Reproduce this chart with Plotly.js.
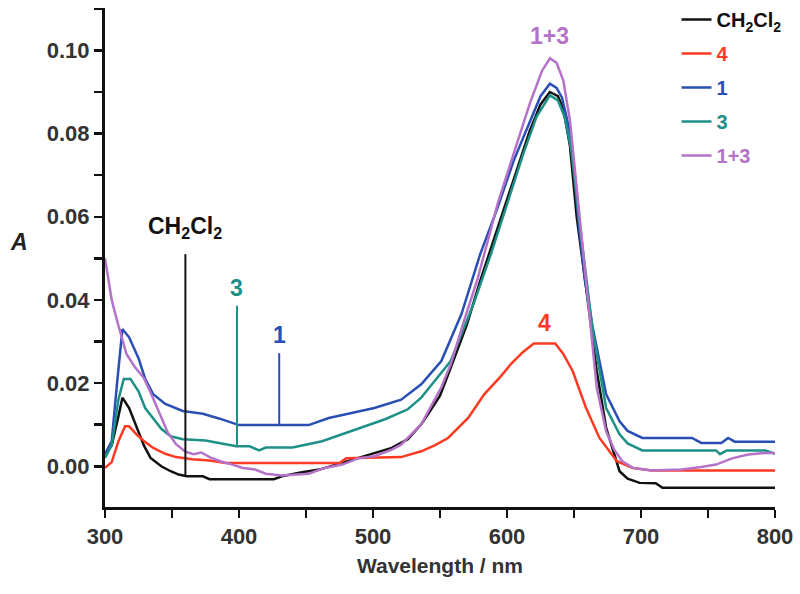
<!DOCTYPE html>
<html>
<head>
<meta charset="utf-8">
<script src="https://cdn.plot.ly/plotly-3.0.1.min.js"></script>
<style>html,body{margin:0;padding:0;background:#fff;}#chart{width:800px;height:594px;}</style>
</head>
<body>
<div id="chart"></div>
<script>
// ---- data (wavelength in nm, absorbance A) ----
const ch2cl2X = [300,305,310,313,318,324,329,334,342,349,355,361,373,378,426,432,446,460,477,489,497,514,526,536,541,550,558,570,580,593,605,617,625,632,638,642,647,652,659,667,674,684,690,699,711,716,800];
const ch2cl2Y = [0.003,0.005,0.012,0.0165,0.014,0.0092,0.005,0.002,0.0,-0.0012,-0.002,-0.0024,-0.0024,-0.0031,-0.0031,-0.0024,-0.0015,-0.0008,0.0008,0.0019,0.0028,0.0044,0.0065,0.0101,0.0125,0.017,0.0237,0.034,0.0446,0.0574,0.0687,0.0807,0.087,0.090,0.089,0.086,0.077,0.060,0.043,0.0229,0.0092,-0.0012,-0.003,-0.004,-0.0041,-0.0052,-0.0052];

const s4X = [300,305,310,315,318,324,330,336,345,353,365,378,390,475,480,521,536,546,556,571,583,595,603,612,620,636,642,649,659,669,682,694,708,800];
const s4Y = [-0.0004,0.001,0.006,0.0096,0.0096,0.0075,0.0058,0.0044,0.003,0.0022,0.0017,0.0014,0.0008,0.0008,0.0019,0.0022,0.0036,0.005,0.0068,0.0116,0.0173,0.0215,0.0246,0.0275,0.0295,0.0295,0.027,0.0229,0.014,0.0068,0.0012,-0.0004,-0.001,-0.001];

const s1X = [300,305,309,313,318,325,330,336,345,358,373,385,400,452,467,484,501,521,536,551,566,580,593,605,617,625,632,637,641,648,653,658,664,674,684,690,701,738,745,760,765,770,800];
const s1Y = [0.003,0.006,0.02,0.033,0.031,0.026,0.021,0.0173,0.015,0.0133,0.0126,0.0115,0.0099,0.0099,0.0116,0.0128,0.014,0.016,0.0197,0.0253,0.0366,0.051,0.0622,0.0735,0.083,0.089,0.092,0.091,0.0887,0.079,0.060,0.045,0.0333,0.0173,0.0108,0.0085,0.0068,0.0068,0.0056,0.0056,0.0068,0.0059,0.0059];

const s3X = [300,305,310,314,319,325,330,336,342,349,358,375,398,408,415,420,440,462,484,509,526,536,546,558,575,588,600,612,622,632,638,643,648,654,664,674,684,690,701,756,759,764,793,800];
const s3Y = [0.002,0.005,0.016,0.021,0.021,0.018,0.014,0.0116,0.009,0.0072,0.0065,0.0062,0.0048,0.0048,0.0038,0.0045,0.0045,0.006,0.0084,0.0113,0.0137,0.0165,0.0205,0.0253,0.039,0.051,0.063,0.075,0.084,0.0892,0.088,0.084,0.076,0.059,0.0325,0.014,0.0077,0.0055,0.0038,0.0038,0.0029,0.0038,0.0038,0.003];

const s13X = [300,305,309,316,322,329,335,341,347,353,360,366,372,378,386,395,403,412,420,432,452,464,477,489,501,514,521,528,536,551,558,568,578,588,593,605,617,626,632,637,642,647,652,657,662,667,674,680,686,694,708,730,745,756,768,780,793,800];
const s13Y = [0.050,0.040,0.035,0.027,0.024,0.0212,0.017,0.0125,0.008,0.0053,0.0035,0.0029,0.0033,0.0022,0.0012,0.0004,-0.0004,-0.0008,-0.0018,-0.0022,-0.0018,-0.0004,0.0004,0.0019,0.0024,0.004,0.0052,0.0075,0.0101,0.019,0.0245,0.035,0.045,0.057,0.0631,0.0752,0.0872,0.095,0.0981,0.097,0.0928,0.0831,0.067,0.051,0.035,0.0188,0.0084,0.004,0.0012,-0.0004,-0.001,-0.0008,-0.0002,0.0004,0.0019,0.0028,0.0032,0.0032];

const seriesNames = ['CH<sub>2</sub>Cl<sub>2</sub>','4','1','3','1+3'];
const xTickVals = [300,400,500,600,700,800];
const yTickVals = [0.00,0.02,0.04,0.06,0.08,0.10];
const yTickText = ['0.00','0.02','0.04','0.06','0.08','0.10'];

// ---- styling ----
const colors = ['#111111','#ff3a22','#2a4fb4','#1e9088','#b473c8'];
const FONT = '"Liberation Sans", Arial, Helvetica, sans-serif';
const xs = [ch2cl2X, s4X, s1X, s3X, s13X];
const ys = [ch2cl2Y, s4Y, s1Y, s3Y, s13Y];

const traces = xs.map((x, i) => ({
  x: x, y: ys[i], type: 'scatter', mode: 'lines',
  name: '<span style="color:' + colors[i] + '">' + seriesNames[i] + '</span>',
  legendgroup: 'g' + i,
  line: {color: colors[i], width: 2.5},
  hoverinfo: 'skip'
}));

const pointerLines = [
  {x: 360, y0: -0.0024, y1: 0.051, c: colors[0]},
  {x: 398.5, y0: 0.0046, y1: 0.0386, c: colors[3]},
  {x: 430, y0: 0.0099, y1: 0.0272, c: colors[2]}
];
const shapes = pointerLines.map(p => ({
  type: 'line', xref: 'x', yref: 'y', x0: p.x, x1: p.x, y0: p.y0, y1: p.y1,
  line: {color: p.c, width: 2}
}));

const lbl = (text, x, y, color) => ({
  text: text, x: x, y: y, xref: 'x', yref: 'y', showarrow: false,
  font: {family: FONT, size: 23, color: color, weight: 'bold'}
});
const annotations = [
  lbl('CH<sub>2</sub>Cl<sub>2</sub>', 360, 0.0575, colors[0]),
  lbl('3', 398.5, 0.0428, colors[3]),
  lbl('1', 430, 0.0315, colors[2]),
  lbl('4', 628, 0.0345, colors[1]),
  lbl('1+3', 632, 0.1035, colors[4]),
  {text: '<i>A</i>', xref: 'paper', yref: 'y', x: -0.145, y: 0.054, showarrow: false,
   font: {family: FONT, size: 23, color: '#222', weight: 'bold'}}
];

const layout = {
  width: 800, height: 594,
  margin: {l: 105, r: 25, t: 8, b: 87, autoexpand: false},
  paper_bgcolor: '#fff', plot_bgcolor: '#fff',
  showlegend: true,
  legend: {
    x: 0.853, y: 1.016, xanchor: 'left', yanchor: 'top',
    bgcolor: 'rgba(0,0,0,0)', borderwidth: 0,
    traceorder: 'grouped', tracegroupgap: 5,
    font: {family: FONT, size: 20, color: '#111', weight: 'bold'}
  },
  xaxis: {
    range: [300, 800], showgrid: false, zeroline: false,
    showline: true, linecolor: '#111', linewidth: 3,
    ticks: 'outside', ticklen: 8, tickwidth: 2.5, tickcolor: '#111',
    tickvals: xTickVals,
    tickfont: {family: FONT, size: 22, color: '#333', weight: 'bold'},
    minor: {dtick: 50, ticks: 'outside', ticklen: 8, tickwidth: 2.5, tickcolor: '#111', showgrid: false},
    title: {text: 'Wavelength / nm', standoff: 10,
            font: {family: FONT, size: 21, color: '#333', weight: 'bold'}}
  },
  yaxis: {
    range: [-0.0098, 0.1102], showgrid: false, zeroline: false,
    showline: true, linecolor: '#111', linewidth: 3,
    ticks: 'outside', ticklen: 8, tickwidth: 2.5, tickcolor: '#111',
    tickvals: yTickVals, ticktext: yTickText,
    tickfont: {family: FONT, size: 22, color: '#333', weight: 'bold'},
    minor: {dtick: 0.01, ticks: 'outside', ticklen: 8, tickwidth: 2.5, tickcolor: '#111', showgrid: false}
  },
  shapes: shapes,
  annotations: annotations
};

Plotly.newPlot('chart', traces, layout, {staticPlot: true, displayModeBar: false});
</script>
</body>
</html>
